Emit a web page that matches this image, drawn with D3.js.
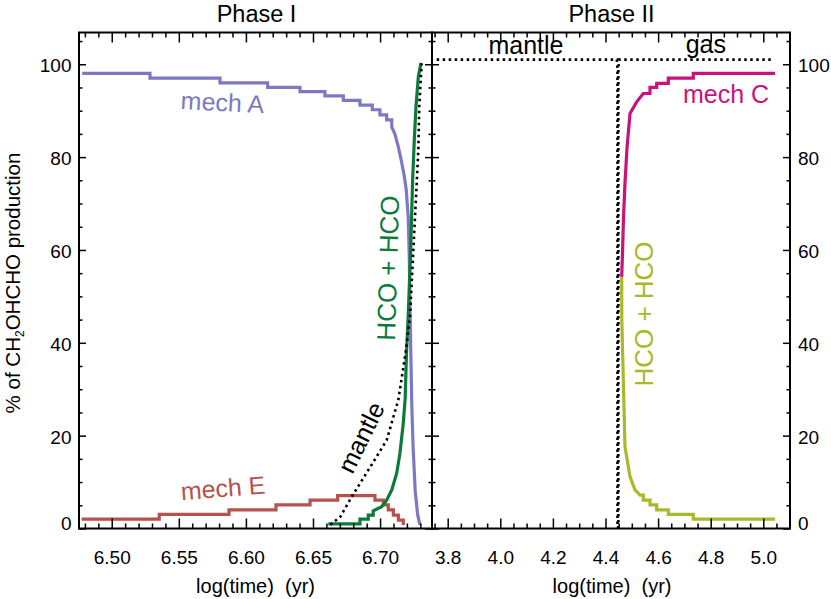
<!DOCTYPE html>
<html><head><meta charset="utf-8">
<script src="https://cdn.jsdelivr.net/npm/d3@7"></script>
<style>
html,body{margin:0;padding:0;background:#fff;}
svg{display:block;font-family:"Liberation Sans",Arial,Helvetica,sans-serif;}
</style></head><body>
<svg id="chart" width="831" height="599"></svg>
<script>
// ---------- data ----------
const yTicksMajor = [0, 20, 40, 60, 80, 100];
const yTickLabels = ["0", "20", "40", "60", "80", "100"];
const yTicksMinor = [5, 10, 15, 25, 30, 35, 45, 50, 55, 65, 70, 75, 85, 90, 95, 105];

const x1TicksMajor = [6.50, 6.55, 6.60, 6.65, 6.70];
const x1TickLabels = ["6.50", "6.55", "6.60", "6.65", "6.70"];
const x1TicksMinor = [6.48, 6.49, 6.51, 6.52, 6.53, 6.54, 6.56, 6.57, 6.58, 6.59, 6.61, 6.62, 6.63, 6.64, 6.66, 6.67, 6.68, 6.69, 6.71, 6.72, 6.73];

const x2TicksMajor = [3.8, 4.0, 4.2, 4.4, 4.6, 4.8, 5.0];
const x2TickLabels = ["3.8", "4.0", "4.2", "4.4", "4.6", "4.8", "5.0"];
const x2TicksMinor = [3.75, 3.85, 3.9, 3.95, 4.05, 4.1, 4.15, 4.25, 4.3, 4.35, 4.45, 4.5, 4.55, 4.65, 4.7, 4.75, 4.85, 4.9, 4.95, 5.05];

// Phase I series
const mechA_x = [6.478, 6.5285, 6.5807, 6.6162, 6.6403, 6.6589, 6.6726, 6.6850, 6.6942, 6.6999, 6.7049, 6.7087, 6.7110, 6.7136, 6.7160, 6.7180, 6.7195, 6.7210, 6.7218, 6.7223, 6.7229, 6.7236, 6.7246, 6.7262, 6.7280, 6.7297];
const mechA_y = [98.05, 97.0, 96.0, 95.0, 94.1, 93.2, 92.2, 91.2, 90.2, 89.1, 88.0, 86.5, 85.0, 82.2, 79.0, 76.0, 73.0, 67.0, 58.0, 48.0, 38.0, 27.0, 17.6, 8.0, 3.0, 0.8];

const mechE_x = [6.4776, 6.5354, 6.5874, 6.6224, 6.6478, 6.6684, 6.6962, 6.7024, 6.7061, 6.7099, 6.7136, 6.7173];
const mechE_y = [2.0, 3.06, 4.0, 5.1, 6.1, 7.1, 6.1, 5.1, 4.0, 2.9, 1.8, 0.75];

const hco1_x = [6.6614, 6.6850, 6.6912, 6.6949, 6.7012, 6.7049, 6.7087, 6.7124, 6.7148, 6.7173, 6.7187, 6.7197, 6.7210, 6.7228, 6.7242, 6.7255, 6.7268, 6.7285, 6.7305];
const hco1_y = [1.0, 2.0, 2.9, 3.8, 4.7, 6.1, 8.3, 11.9, 16.2, 22.7, 28.0, 38.0, 46.0, 60.0, 74.5, 83.7, 91.0, 97.3, 100.3];

const mantle1_x = [6.6629, 6.6703, 6.6788, 6.6900, 6.7049, 6.7136, 6.7193, 6.7223, 6.7248, 6.7273, 6.7285, 6.7292, 6.7310];
const mantle1_y = [0.8, 2.5, 6.8, 12.0, 19.0, 27.7, 38.4, 45.6, 60.0, 74.4, 81.5, 90.9, 100.2];

// Phase II series
const mantle2_x = [3.758, 4.443, 4.4455, 4.4455];
const mantle2_y = [101, 101, 99, 0];
const gas2_x = [4.4490, 4.4490, 4.452, 5.032];
const gas2_y = [0, 99, 101, 101];

const mechC_x = [4.4616, 4.4650, 4.4684, 4.4741, 4.4818, 4.4932, 4.5186, 4.5437, 4.5692, 4.5947, 4.6388, 4.7338, 5.0445];
const mechC_y = [54.2, 60.0, 67.0, 74.4, 82.0, 89.4, 91.9, 93.7, 95.0, 95.9, 97.0, 98.05, 98.05];

const hco2_x = [4.4616, 4.4620, 4.4680, 4.4741, 4.4932, 4.5122, 4.5312, 4.5437, 4.5692, 4.5947, 4.6388, 4.7338, 5.0445];
const hco2_y = [54.2, 45.0, 31.3, 17.6, 11.2, 8.3, 7.2, 6.1, 5.1, 4.0, 3.06, 2.0, 2.0];

// ---------- layout ----------
const svg = d3.select("#chart");
const yTop = 32.5, yBot = 528.5, L1 = 79, M = 432, R2 = 790;
const y = d3.scaleLinear().domain([0, 106.84]).range([yBot, yTop]);
const x1 = d3.scaleLinear().domain([6.4756, 6.7387]).range([L1, M]);
const x2 = d3.scaleLinear().domain([3.7403, 5.1015]).range([M, R2]);

const colA = "#7c79c2", colE = "#b5524b", colG1 = "#0c7a3b", colC = "#c8127f", colG2 = "#a9b92b";

function pts(xs, ys, stepA, stepB) {
  const out = [];
  for (let i = 0; i < xs.length; i++) {
    if (i > 0 && i - 1 >= stepA && i - 1 < stepB) out.push([xs[i], ys[i - 1]]);
    out.push([xs[i], ys[i]]);
  }
  return out;
}
function drawLine(xs, data, color, width, dash) {
  const line = d3.line().x(d => xs(d[0])).y(d => y(d[1]));
  const p = svg.append("path").datum(data).attr("d", line)
    .attr("fill", "none").attr("stroke", color).attr("stroke-width", width)
    .attr("stroke-linejoin", "miter");
  if (dash) p.attr("stroke-dasharray", dash);
  return p;
}

// ---------- series ----------
drawLine(x1, pts(mechA_x, mechA_y, 0, 11), colA, 3.2);
drawLine(x1, pts(mechE_x, mechE_y, 0, 11), colE, 3.2);
drawLine(x1, pts(hco1_x, hco1_y, 0, 3), colG1, 3.2);
drawLine(x1, pts(mantle1_x, mantle1_y, 0, 0), "#000", 2.6, "2.5,3.5");

drawLine(x2, pts(hco2_x, hco2_y, 6, 11), colG2, 3.2);
drawLine(x2, pts(mechC_x, mechC_y, 7, 11), colC, 3.2);
drawLine(x2, pts(mantle2_x, mantle2_y, 0, 0), "#000", 2.6, "2.5,3.5");
drawLine(x2, pts(gas2_x, gas2_y, 0, 0), "#000", 2.6, "2.5,3.5");

// ---------- axes ----------
function drawAxis(gen, transform, ticks, size, pad, labels) {
  const g = svg.append("g").attr("transform", transform)
    .call(gen.tickValues(ticks).tickSize(size).tickPadding(pad)
      .tickFormat(labels ? (d, i) => labels[i] : () => ""));
  g.select(".domain").remove();
  g.attr("font-size", 19).attr("font-family", null);
  g.selectAll(".tick line").attr("stroke", "#000").attr("stroke-width", 1.5);
  g.selectAll("text").attr("fill", "#000");
  return g;
}
// Phase I x axes
let gb = drawAxis(d3.axisBottom(x1), `translate(0,${yBot})`, x1TicksMajor, -10, 0, x1TickLabels);
gb.selectAll("text").attr("y", 28.5).attr("dy", "0.35em");
drawAxis(d3.axisBottom(x1), `translate(0,${yBot})`, x1TicksMinor, -5, 0, null);
drawAxis(d3.axisTop(x1), `translate(0,${yTop})`, x1TicksMajor, -10, 0, null);
drawAxis(d3.axisTop(x1), `translate(0,${yTop})`, x1TicksMinor, -5, 0, null);
// Phase II x axes
gb = drawAxis(d3.axisBottom(x2), `translate(0,${yBot})`, x2TicksMajor, -10, 0, x2TickLabels);
gb.selectAll("text").attr("y", 28.5).attr("dy", "0.35em");
drawAxis(d3.axisBottom(x2), `translate(0,${yBot})`, x2TicksMinor, -5, 0, null);
drawAxis(d3.axisTop(x2), `translate(0,${yTop})`, x2TicksMajor, -10, 0, null);
drawAxis(d3.axisTop(x2), `translate(0,${yTop})`, x2TicksMinor, -5, 0, null);

// y axes
let gl = drawAxis(d3.axisLeft(y), `translate(${L1},0)`, yTicksMajor, -7, 7.5, yTickLabels);
gl.selectAll("text").attr("dy", "0.4em").filter(d => d === 0).attr("y", -7);
drawAxis(d3.axisLeft(y), `translate(${L1},0)`, yTicksMinor, -3.5, 0, null);
drawAxis(d3.axisRight(y), `translate(${M},0)`, yTicksMajor, -7, 0, null);
drawAxis(d3.axisRight(y), `translate(${M},0)`, yTicksMinor, -3.5, 0, null);
drawAxis(d3.axisLeft(y), `translate(${M},0)`, yTicksMajor, -7, 0, null);
drawAxis(d3.axisLeft(y), `translate(${M},0)`, yTicksMinor, -3.5, 0, null);
let gr = drawAxis(d3.axisRight(y), `translate(${R2},0)`, yTicksMajor, -7, 8, yTickLabels);
gr.selectAll("text").attr("dy", "0.4em").filter(d => d === 0).attr("y", -7);
drawAxis(d3.axisRight(y), `translate(${R2},0)`, yTicksMinor, -3.5, 0, null);

// frames
svg.append("rect").attr("x", L1).attr("y", yTop).attr("width", M - L1).attr("height", yBot - yTop)
  .attr("fill", "none").attr("stroke", "#000").attr("stroke-width", 2);
svg.append("rect").attr("x", M).attr("y", yTop).attr("width", R2 - M).attr("height", yBot - yTop)
  .attr("fill", "none").attr("stroke", "#000").attr("stroke-width", 2);

// ---------- text ----------
function label(txt, x, yy, size, color, rot) {
  return svg.append("text")
    .attr("transform", `translate(${x},${yy}) rotate(${rot || 0})`)
    .attr("text-anchor", "middle").attr("dy", "0.35em")
    .attr("font-size", size).attr("fill", color)
    .style("white-space", "pre").text(txt);
}
label("Phase I", (L1 + M) / 2 + 1, 13.5, 23.5, "#000");
label("Phase II", (M + R2) / 2 + 0.5, 13.5, 23.5, "#000");
label("log(time)  (yr)", (L1 + M) / 2, 585.5, 20, "#000");
label("log(time)  (yr)", (M + R2) / 2 + 1, 585.5, 20, "#000");

const yt = svg.append("text")
  .attr("transform", "translate(12.5,283) rotate(-90)")
  .attr("text-anchor", "middle").attr("dy", "0.35em")
  .attr("font-size", 20.5).attr("fill", "#000");
yt.append("tspan").text("% of CH");
yt.append("tspan").attr("font-size", 12).attr("dy", 4).text("2");
yt.append("tspan").attr("dy", -4).text("OHCHO production");

label("mech A", x1(6.5825), y(91.8), 25, colA, 3);
label("mech E", x1(6.5829), y(8.7), 25, colE, -4.5);
label("HCO + HCO", x1(6.7059), y(56.1), 26, colG1, -88.4);
label("mantle", x1(6.6858), y(19.6), 25, "#000", -64);

label("mantle", x2(4.0977), y(104.2), 25, "#000");
label("gas", x2(4.7814), y(104.4), 25, "#000");
label("mech C", x2(4.8585), y(93.6), 25, colC);
label("HCO + HCO", x2(4.5464), y(46.2), 26, colG2, -90);
</script>
</body></html>
